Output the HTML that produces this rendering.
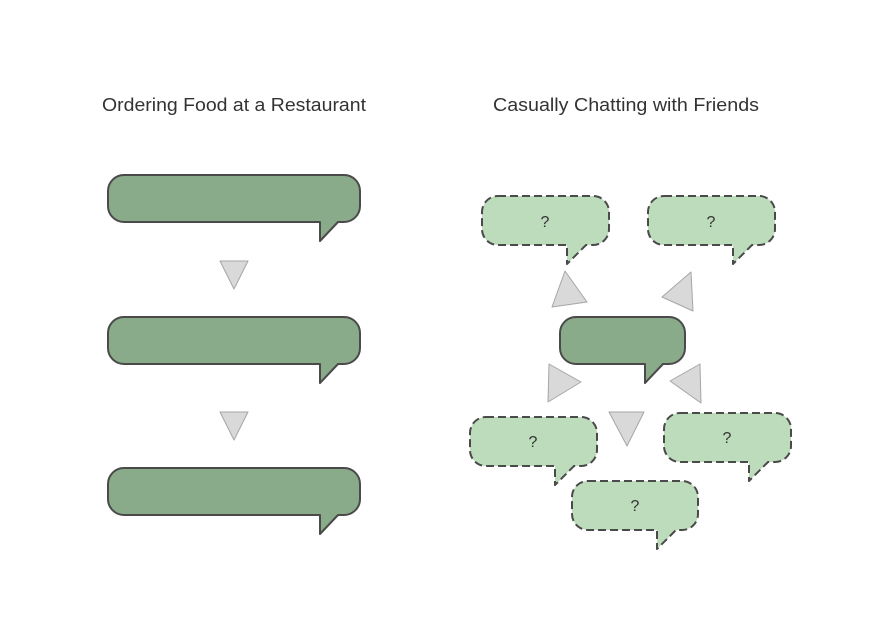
<!DOCTYPE html>
<html><head><meta charset="utf-8"><style>
html,body{margin:0;padding:0;background:#fff;}
svg{display:block;}
text{font-family:"Liberation Sans",sans-serif;fill:#333;}
</style></head><body>
<svg width="869" height="632" viewBox="0 0 869 632" xmlns="http://www.w3.org/2000/svg">
<rect width="869" height="632" fill="#fff"/>
<text x="102" y="111" font-size="18" textLength="264" lengthAdjust="spacingAndGlyphs">Ordering Food at a Restaurant</text>
<text x="493" y="111" font-size="18" textLength="266" lengthAdjust="spacingAndGlyphs">Casually Chatting with Friends</text>

<g fill="#8aab8a" stroke="#4a4a4a" stroke-width="2" stroke-linejoin="round">
<path d="M124,175 H344 A16,16 0 0 1 360,191 V206 A16,16 0 0 1 344,222 H338 L320,241 V222 H124 A16,16 0 0 1 108,206 V191 A16,16 0 0 1 124,175 Z"/>
<path d="M124,317 H344 A16,16 0 0 1 360,333 V348 A16,16 0 0 1 344,364 H338 L320,383 V364 H124 A16,16 0 0 1 108,348 V333 A16,16 0 0 1 124,317 Z"/>
<path d="M124,468 H344 A16,16 0 0 1 360,484 V499 A16,16 0 0 1 344,515 H338 L320,534 V515 H124 A16,16 0 0 1 108,499 V484 A16,16 0 0 1 124,468 Z"/>
<path d="M576,317 H669 A16,16 0 0 1 685,333 V348 A16,16 0 0 1 669,364 H663 L645,383 V364 H576 A16,16 0 0 1 560,348 V333 A16,16 0 0 1 576,317 Z"/>
</g>

<g fill="#bcdcbc" stroke="#4a4a4a" stroke-width="2" stroke-dasharray="8,4" stroke-linejoin="round">
<path d="M498,196 H593 A16,16 0 0 1 609,212 V229 A16,16 0 0 1 593,245 H586 L567,264 V245 H498 A16,16 0 0 1 482,229 V212 A16,16 0 0 1 498,196 Z"/>
<path d="M664,196 H759 A16,16 0 0 1 775,212 V229 A16,16 0 0 1 759,245 H752 L733,264 V245 H664 A16,16 0 0 1 648,229 V212 A16,16 0 0 1 664,196 Z"/>
<path d="M486,417 H581 A16,16 0 0 1 597,433 V450 A16,16 0 0 1 581,466 H574 L555,485 V466 H486 A16,16 0 0 1 470,450 V433 A16,16 0 0 1 486,417 Z"/>
<path d="M680,413 H775 A16,16 0 0 1 791,429 V446 A16,16 0 0 1 775,462 H768 L749,481 V462 H680 A16,16 0 0 1 664,446 V429 A16,16 0 0 1 680,413 Z"/>
<path d="M588,481 H682 A16,16 0 0 1 698,497 V514 A16,16 0 0 1 682,530 H676 L657,549 V530 H588 A16,16 0 0 1 572,514 V497 A16,16 0 0 1 588,481 Z"/>
</g>

<g font-size="16" text-anchor="middle">
<text x="545" y="227">?</text>
<text x="711" y="227">?</text>
<text x="533" y="447">?</text>
<text x="727" y="443">?</text>
<text x="635" y="511">?</text>
</g>

<g fill="#d9d9d9" stroke="#a6a6a6" stroke-width="1" stroke-linejoin="round">
<polygon points="220,261 248,261 234,289"/>
<polygon points="220,412 248,412 234,440"/>
<polygon points="552,307 565,271 587,302"/>
<polygon points="662,297 691,272 693,311"/>
<polygon points="549,364 581,382 548,402"/>
<polygon points="700,364 670,381 701,403"/>
<polygon points="609,412 644,412 627,446"/>
</g>
</svg>
</body></html>
